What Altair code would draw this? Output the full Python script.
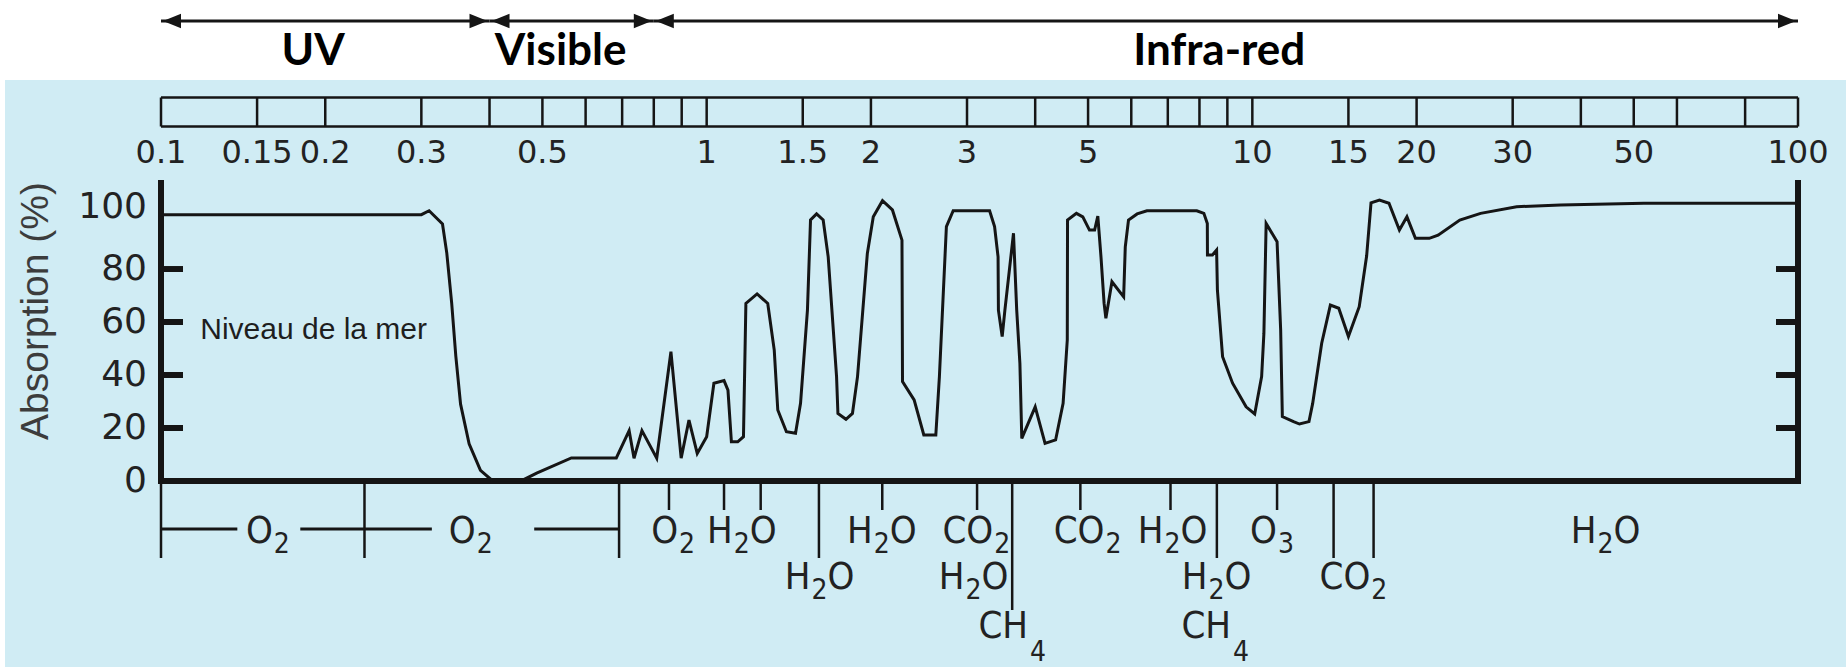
import altair as alt
import pandas as pd

# ---------------- data ----------------
# absorption curve (wavelength in micrometres, absorption in %)
wavelength_um = [0.1, 0.30, 0.31, 0.328, 0.334, 0.341, 0.347, 0.354, 0.367, 0.385,
                 0.404, 0.46, 0.488, 0.565, 0.683, 0.721, 0.736, 0.761, 0.81, 0.86,
                 0.898, 0.928, 0.961, 1.0, 1.031, 1.076, 1.094, 1.11, 1.14, 1.168,
                 1.18, 1.237, 1.294, 1.33, 1.35, 1.40, 1.455, 1.486, 1.53, 1.55,
                 1.59, 1.635, 1.67, 1.73, 1.74, 1.80, 1.85, 1.89, 1.97, 2.02,
                 2.10, 2.19, 2.28, 2.285, 2.40, 2.50, 2.63, 2.67, 2.75, 2.83,
                 3.30, 3.37, 3.42, 3.425, 3.48, 3.52, 3.65, 3.70, 3.75, 3.78,
                 4.0, 4.17, 4.36, 4.5, 4.58, 4.585, 4.76, 4.89, 5.03, 5.14,
                 5.21, 5.28, 5.35, 5.39, 5.53, 5.81, 5.85, 5.93, 6.15, 6.41,
                 7.91, 8.15, 8.27, 8.275, 8.45, 8.6, 8.63, 8.82, 9.2, 9.74,
                 10.1, 10.4, 10.5, 10.6, 11.1, 11.27, 11.35, 11.9, 12.2, 12.7,
                 12.9, 13.4, 13.9, 14.4, 15.0, 15.7, 16.2, 16.5, 17.1, 17.8,
                 18.6, 19.2, 19.9, 21.1, 21.9, 24.0, 26.2, 30.5, 36.7, 52.2, 100]
absorption_pct = [100.5, 100.5, 102, 97, 86, 67, 47, 29, 14, 4,
                  0.3, 0.3, 3, 8.7, 8.7, 19, 8.6, 19, 8.6, 48.8,
                  8.6, 23, 10.4, 16.7, 36.9, 37.9, 34.3, 14.8, 14.8, 16.7,
                  67, 70.6, 67, 49.4, 26.8, 18.6, 18, 29.3, 64.5, 98.5,
                  100.8, 98.5, 84.6, 39.4, 25.5, 23.3, 25.5, 39.4, 85.9, 99.7,
                  105.8, 102.3, 90.9, 37.5, 30.6, 17.4, 17.4, 39.4, 96, 102,
                  102, 96, 84.6, 64.5, 54.5, 64.5, 93.5, 64.5, 44.4, 16.1,
                  28, 14.2, 15.5, 29.3, 53.2, 98.5, 101, 99.7, 94.7, 94.7,
                  100, 84.6, 67, 61.4, 75.2, 69.5, 88.4, 98.5, 100.8, 102,
                  102, 101, 97.2, 85.3, 85.3, 87.2, 72, 46.9, 36.9, 28,
                  25.3, 39.4, 55.7, 97.2, 90.3, 57, 24.3, 22.4, 21.5, 22.4,
                  29.3, 52, 66.4, 65.2, 54.5, 65.8, 85, 105, 106, 104.8,
                  94.7, 99.7, 91.6, 91.6, 92.8, 98.5, 101, 103.5, 104.2, 104.8, 104.8]

# wavelength scale bar
scale_ticks = [0.1, 0.15, 0.2, 0.3, 0.4, 0.5, 0.6, 0.7, 0.8, 0.9, 1, 1.5, 2, 3, 4, 5,
               6, 7, 8, 9, 10, 15, 20, 30, 40, 50, 60, 80, 100]
scale_label_values = [0.1, 0.15, 0.2, 0.3, 0.5, 1, 1.5, 2, 3, 5, 10, 15, 20, 30, 50, 100]
scale_label_texts = ["0.1", "0.15", "0.2", "0.3", "0.5", "1", "1.5", "2", "3", "5",
                     "10", "15", "20", "30", "50", "100"]

# absorption axis
y_tick_values = [20, 40, 60, 80]
y_label_values = [0, 20, 40, 60, 80, 100]
y_title = ["Absorption (%)"]

# spectral regions (top arrows)
region_names = ["UV", "Visible", "Infra-red"]
region_start = [0.1, 0.4, 0.8]
region_end = [0.4, 0.8, 100]
region_label_at = [0.19, 0.54, 8.7]

# annotation
note_text = ["Niveau de la mer"]
note_lam = [0.118]
note_abs = [57]

# absorbing gases (markers below the axis)
band_tick_lam = [0.853, 1.076, 1.256, 1.606, 2.098, 3.13, 3.63, 4.84, 7.08, 8.61,
                 11.1, 14.09, 16.68]
band_tick_level = [1, 1, 1, 2, 1, 1, 3, 1, 1, 2, 1, 2, 2]
o2_divider_lam = [0.1, 0.236, 0.691]
o2_dash_start = [0.1, 0.180, 0.483]
o2_dash_end = [0.138, 0.3136, 0.691]

mol_main = ["O", "O", "O", "H", "H", "H", "CO", "H", "CH", "CO", "H", "H", "CH", "O", "CO", "H"]
mol_sub = ["2", "2", "2", "2", "2", "2", "2", "2", "4", "2", "2", "2", "4", "3", "2", "2"]
mol_tail = ["", "", "", "O", "O", "O", "", "O", "", "", "O", "O", "", "", "", "O"]
mol_at = [0.161, 0.379, 0.890, 1.121, 1.557, 2.023, 3.365, 2.981, 3.897, 5.38,
          6.90, 8.31, 9.18, 11.14, 16.52, 42.9]
mol_row = [1, 1, 1, 1, 2, 1, 1, 2, 3, 1, 1, 2, 3, 1, 2, 1]

# ---------------- layout / style ----------------
TOTAL_W, TOTAL_H = 1846, 667
PAD_L, PAD_T = 161, 180
W, H = 1637, 301
INK = "#151515"
BLUE = "#d0ecf4"
NUM_FONT = "DejaVu Sans"
MOL_FONT = "DejaVu Sans Condensed, Liberation Sans"
MOL_SIZE, SUB_SIZE = 38, 28


def py(y_full):
    return y_full - PAD_T


xscale = alt.Scale(type="log", domain=[0.1, 100], nice=False)
yscale = alt.Scale(domain=[0, 113.6], nice=False, zero=False)

one = pd.DataFrame({"k": [0]})
curve = pd.DataFrame({"lam": wavelength_um, "A": absorption_pct,
                      "i": list(range(len(wavelength_um)))})
regions = pd.DataFrame({"name": region_names, "start": region_start,
                        "end": region_end, "at": region_label_at})
ticks_df = pd.DataFrame({"v": scale_ticks})
labels_df = pd.DataFrame({"v": scale_label_values, "t": scale_label_texts})
ytick_df = pd.DataFrame({"v": y_tick_values})
ylab_df = pd.DataFrame({"v": y_label_values, "t": [str(v) for v in y_label_values]})
frame_df = pd.DataFrame({"v": [0.1, 100]})
band_df = pd.DataFrame({"lam": band_tick_lam, "level": band_tick_level})
div_df = pd.DataFrame({"lam": o2_divider_lam})
dash_df = pd.DataFrame({"s": o2_dash_start, "e": o2_dash_end})
mol_df = pd.DataFrame({"main": mol_main, "sub": mol_sub, "tail": mol_tail,
                       "at": mol_at, "row": mol_row})
note_df = pd.DataFrame({"t": note_text, "lam": note_lam, "A": note_abs})
ytitle_df = pd.DataFrame({"t": y_title})

X = lambda f: alt.X(f, scale=xscale, axis=None)
Y = lambda f: alt.Y(f, scale=yscale, axis=None)

layers = []

# white band at the top and thin white strip at the left
layers.append(alt.Chart(one).mark_rect(color="white").encode(
    x=alt.value(-PAD_L), x2=alt.value(TOTAL_W - PAD_L),
    y=alt.value(-PAD_T), y2=alt.value(py(80))))
layers.append(alt.Chart(one).mark_rect(color="white").encode(
    x=alt.value(-PAD_L), x2=alt.value(-PAD_L + 5),
    y=alt.value(py(80)), y2=alt.value(TOTAL_H - PAD_T)))

# region arrows
ARROW_Y = py(21)
layers.append(alt.Chart(regions).mark_rule(color=INK, strokeWidth=3).encode(
    x=X("start:Q"), x2="end:Q", y=alt.value(ARROW_Y)))
layers.append(alt.Chart(regions).mark_point(
    shape="M0,0 L1,-0.4 L1,0.4 Z", size=1296, filled=True, opacity=1,
    color=INK, strokeWidth=0, xOffset=2).encode(x=X("start:Q"), y=alt.value(ARROW_Y)))
layers.append(alt.Chart(regions).mark_point(
    shape="M0,0 L-1,-0.4 L-1,0.4 Z", size=1296, filled=True, opacity=1,
    color=INK, strokeWidth=0, xOffset=-2).encode(x=X("end:Q"), y=alt.value(ARROW_Y)))
layers.append(alt.Chart(regions).mark_text(
    font="Lato", fontWeight="bold", fontSize=44, color="black",
    baseline="alphabetic", align="center").encode(
    x=X("at:Q"), y=alt.value(py(65)), text="name:N"))

# wavelength scale bar
BAR_T, BAR_B = py(97.5), py(126.5)
layers.append(alt.Chart(frame_df).mark_rule(color=INK, strokeWidth=2.5).encode(
    x=alt.X("min(v):Q", scale=xscale, axis=None), x2="max(v):Q", y=alt.value(BAR_T)))
layers.append(alt.Chart(frame_df).mark_rule(color=INK, strokeWidth=2.5).encode(
    x=alt.X("min(v):Q", scale=xscale, axis=None), x2="max(v):Q", y=alt.value(BAR_B)))
layers.append(alt.Chart(ticks_df).mark_rule(color=INK, strokeWidth=2.5).encode(
    x=X("v:Q"), y=alt.value(BAR_T), y2=alt.value(BAR_B)))
layers.append(alt.Chart(labels_df).mark_text(
    font=NUM_FONT, fontSize=32, color="#222", baseline="middle").encode(
    x=X("v:Q"), y=alt.value(py(153)), text="t:N"))

# frame of the plot
layers.append(alt.Chart(frame_df).mark_rule(color=INK, strokeWidth=6).encode(
    x=X("v:Q"), y=alt.value(0), y2=alt.value(H + 3)))
layers.append(alt.Chart(one).mark_rule(color=INK, strokeWidth=6).encode(
    x=alt.value(-3), x2=alt.value(W + 3), y=alt.value(H)))
layers.append(alt.Chart(ytick_df).mark_rule(color=INK, strokeWidth=6).encode(
    y=Y("v:Q"), x=alt.value(0), x2=alt.value(22)))
layers.append(alt.Chart(ytick_df).mark_rule(color=INK, strokeWidth=6).encode(
    y=Y("v:Q"), x=alt.value(W - 22), x2=alt.value(W)))
layers.append(alt.Chart(ylab_df).transform_filter(alt.datum.v < 100).mark_text(
    font=NUM_FONT, fontSize=36, color="#222", align="right", baseline="middle").encode(
    y=Y("v:Q"), x=alt.value(-14), text="t:N"))
layers.append(alt.Chart(ylab_df).transform_filter(alt.datum.v >= 100).mark_text(
    font=NUM_FONT, fontSize=36, color="#222", align="right", baseline="middle",
    dy=-9).encode(y=Y("v:Q"), x=alt.value(-14), text="t:N"))
layers.append(alt.Chart(ytitle_df).mark_text(
    font="Liberation Sans", fontSize=39, color="#3c3c3c", angle=270,
    align="center", baseline="middle").encode(
    x=alt.value(-125), y=alt.value(py(311)), text="t:N"))

# annotation
layers.append(alt.Chart(note_df).mark_text(
    font="Liberation Sans", fontSize=30, color="#1e1e1e", align="left",
    baseline="middle").encode(x=X("lam:Q"), y=Y("A:Q"), text="t:N"))

# absorption curve
layers.append(alt.Chart(curve).mark_line(color=INK, strokeWidth=3).encode(
    x=X("lam:Q"), y=Y("A:Q"), order="i:Q"))

# gas markers below the axis
LEVEL_END = {1: py(510), 2: py(558), 3: py(610)}
for lvl, yend in LEVEL_END.items():
    layers.append(alt.Chart(band_df).transform_filter(
        alt.datum.level == lvl).mark_rule(color=INK, strokeWidth=2.5).encode(
        x=X("lam:Q"), y=alt.value(H), y2=alt.value(yend)))
layers.append(alt.Chart(div_df).mark_rule(color=INK, strokeWidth=2.5).encode(
    x=X("lam:Q"), y=alt.value(H), y2=alt.value(LEVEL_END[2])))
layers.append(alt.Chart(dash_df).mark_rule(color=INK, strokeWidth=3).encode(
    x=X("s:Q"), x2="e:Q", y=alt.value(py(529))))

ROW_BASE = {1: py(543), 2: py(589), 3: py(638)}
for row, yb in ROW_BASE.items():
    base = alt.Chart(mol_df).transform_filter(alt.datum.row == row)
    layers.append(base.mark_text(
        font=MOL_FONT, fontSize=MOL_SIZE, color="#222", align="right",
        baseline="alphabetic", dx=-1).encode(x=X("at:Q"), y=alt.value(yb), text="main:N"))
    layers.append(base.transform_filter(alt.datum.sub != "4").mark_text(
        font=MOL_FONT, fontSize=SUB_SIZE, color="#222", align="left",
        baseline="alphabetic", dx=0).encode(x=X("at:Q"), y=alt.value(yb + 10), text="sub:N"))
    layers.append(base.transform_filter(alt.datum.sub == "4").mark_text(
        font=MOL_FONT, fontSize=SUB_SIZE, color="#222", align="left",
        baseline="alphabetic", dx=1).encode(x=X("at:Q"), y=alt.value(yb + 23), text="sub:N"))
    layers.append(base.transform_filter(alt.datum.tail != "").mark_text(
        font=MOL_FONT, fontSize=MOL_SIZE, color="#222", align="left",
        baseline="alphabetic", dx=16).encode(x=X("at:Q"), y=alt.value(yb), text="tail:N"))

chart = alt.layer(*layers).properties(
    width=W, height=H,
    autosize=alt.AutoSizeParams(type="none"),
    padding={"left": PAD_L, "top": PAD_T, "right": TOTAL_W - PAD_L - W,
             "bottom": TOTAL_H - PAD_T - H},
).configure(background=BLUE).configure_view(strokeWidth=0)

chart.save("out.html", embed_options={"renderer": "svg", "actions": False})
